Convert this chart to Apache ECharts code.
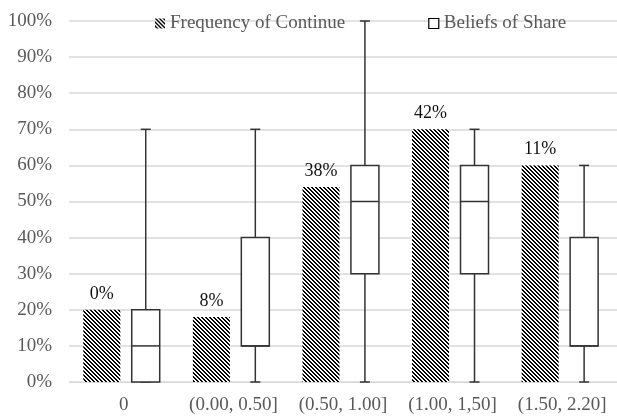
<!DOCTYPE html>
<html>
<head>
<meta charset="utf-8">
<script src="https://cdn.jsdelivr.net/npm/echarts@6/dist/echarts.min.js"></script>
<style>
  html, body { margin: 0; padding: 0; background: #fff; }
  #chart { width: 617px; height: 416px; }
</style>
</head>
<body>
<div id="chart"></div>
<script>
// datos
const categories = ['0', '(0.00, 0.50]', '(0.50, 1.00]', '(1.00, 1,50]', '(1.50, 2.20]'];
const continueFreq = [20, 18, 54, 70, 60];
const continueLabels = ['0%', '8%', '38%', '42%', '11%'];
// [min, Q1, mediana, Q3, max]
const shareMin = [0, 0, 0, 0, 0];
const shareQ1 = [0, 10, 30, 30, 10];
const shareMedian = [10, 10, 50, 50, 10];
const shareQ3 = [20, 40, 60, 60, 40];
const shareMax = [70, 70, 100, 70, 60];

const font = 'Liberation Serif, Times New Roman, serif';
const gray = '#595959';

// patron rayado para las barras (pixeles exactos, diagonal "\")
function hatch() {
    const n = 4;
    const c = document.createElement('canvas');
    c.width = n;
    c.height = n;
    const g = c.getContext('2d');
    g.fillStyle = '#fff';
    g.fillRect(0, 0, n, n);
    g.fillStyle = '#000';
    for (let py = 0; py < n; py++) {
        for (let px = 0; px < n; px++) {
            const d = ((px - py) % n + n) % n;
            if (d < 2) g.fillRect(px, py, 1, 1);
        }
    }
    return c;
}
const hatchFill = { image: hatch(), repeat: 'repeat' };

const boxData = categories.map((c, i) => [i, shareMin[i], shareQ1[i], shareMedian[i], shareQ3[i], shareMax[i]]);

function renderBox(params, api) {
    const i = api.value(0);
    const band = api.size([1, 0])[0];
    const cx = api.coord([i, 0])[0] + band * 0.2;
    const y = k => api.coord([i, api.value(k)])[1];
    const half = 14, cap = 5;
    const style = { stroke: '#333', lineWidth: 1.5, fill: null };
    const ln = (x1, y1, x2, y2) => ({ type: 'line', shape: { x1, y1, x2, y2 }, style });
    return {
        type: 'group',
        children: [
            ln(cx, y(5), cx, y(4)),
            ln(cx, y(2), cx, y(1)),
            ln(cx - cap, y(5), cx + cap, y(5)),
            ln(cx - cap, y(1), cx + cap, y(1)),
            { type: 'rect', shape: { x: cx - half, y: y(4), width: half * 2, height: y(2) - y(4) },
              style: { fill: '#fff', stroke: '#333', lineWidth: 1.5 } },
            ln(cx - half, y(3), cx + half, y(3))
        ]
    };
}

const chart = echarts.init(document.getElementById('chart'), null, { renderer: 'canvas' });

chart.setOption({
    animation: false,
    textStyle: { fontFamily: font },
    legend: {
        left: 150,
        top: 9,
        itemWidth: 10,
        itemHeight: 10,
        itemGap: 83,
        textStyle: { fontFamily: font, fontSize: 19, color: gray },
        data: [
            { name: 'Frequency of Continue', icon: 'rect' },
            { name: 'Beliefs of Share', icon: 'rect', itemStyle: { color: '#fff', borderColor: '#000', borderWidth: 1.2 } }
        ]
    },
    grid: { left: 69, right: 0, top: 21, bottom: 34 },
    xAxis: {
        type: 'category',
        data: categories,
        axisLine: { lineStyle: { color: '#d9d9d9' } },
        axisTick: { show: false },
        axisLabel: { interval: 0, fontFamily: font, fontSize: 19, color: gray, margin: 14 }
    },
    yAxis: {
        type: 'value',
        min: 0,
        max: 100,
        interval: 10,
        axisLabel: { fontFamily: font, fontSize: 19, color: gray, margin: 17, formatter: v => v + '%' },
        splitLine: { lineStyle: { color: '#d9d9d9', width: 1.5 } }
    },
    series: [
        {
            name: 'Frequency of Continue',
            type: 'bar',
            barWidth: 37,
            barGap: '19%',
            data: continueFreq,
            itemStyle: { color: hatchFill },
            label: {
                show: true,
                position: 'top',
                distance: 7,
                fontFamily: font,
                fontSize: 18,
                color: '#111',
                formatter: p => continueLabels[p.dataIndex]
            }
        },
        {
            // serie vacia solo para desplazar la barra a la izquierda
            name: 'spacer',
            type: 'bar',
            barWidth: 37,
            data: categories.map(() => '-'),
            silent: true
        },
        {
            name: 'Beliefs of Share',
            type: 'custom',
            renderItem: renderBox,
            encode: { x: 0, y: [1, 2, 3, 4, 5] },
            itemStyle: { color: '#fff', borderColor: '#000' },
            data: boxData,
            z: 3
        }
    ]
});
</script>
</body>
</html>
